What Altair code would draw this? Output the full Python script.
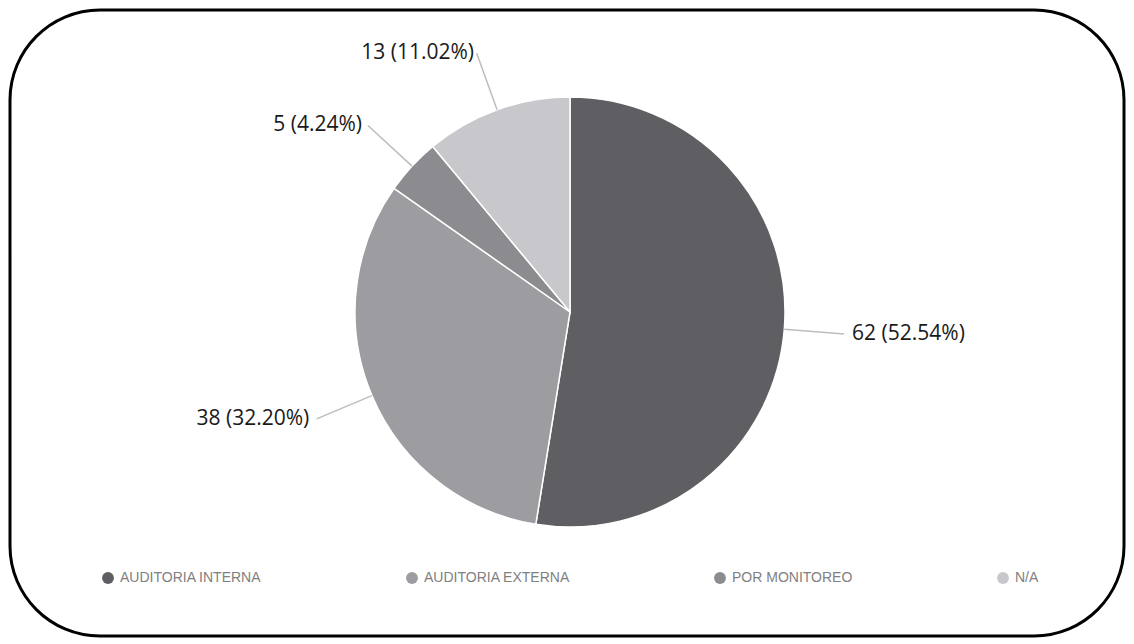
import math
import altair as alt
import pandas as pd

categories = ["AUDITORIA INTERNA", "AUDITORIA EXTERNA", "POR MONITOREO", "N/A"]
values = [62, 38, 5, 13]
colors = ["#5f5f63", "#9d9da1", "#8c8c90", "#c8c8cc"]

W, H = 1114, 626
CX, CY = 560, 302
R = 215
LINE = 60
GAP = 8

total = sum(values)
rows = []
cum = 0
for i, (c, v) in enumerate(zip(categories, values)):
    mid = (cum + v / 2) / total * 2 * math.pi
    cum += v
    s, co = math.sin(mid), -math.cos(mid)
    rows.append(dict(
        cat=c, value=v, order=i,
        label=f"{v} ({v / total * 100:.2f}%)",
        x1=CX + R * s, y1=CY + R * co,
        x2=CX + (R + LINE) * s, y2=CY + (R + LINE) * co,
        tx=CX + (R + LINE + GAP) * s, ty=CY + (R + LINE) * co,
        side="right" if s > 0 else "left",
    ))
df = pd.DataFrame(rows)

base = alt.Chart(df)

pie = base.mark_arc(outerRadius=R, stroke="white", strokeWidth=1.5).encode(
    theta=alt.Theta("value:Q", stack=True),
    color=alt.Color(
        "cat:N",
        scale=alt.Scale(domain=categories, range=colors),
        legend=alt.Legend(
            title=None, orient="none", legendX=91, legendY=561,
            direction="horizontal", symbolType="circle", symbolSize=140,
            symbolStrokeWidth=0, labelFont="Liberation Sans",
            labelFontSize=14, labelColor="#808080", columnPadding=143,
            labelOffset=5,
        ),
    ),
    order=alt.Order("order:Q"),
    x=alt.value(CX),
    y=alt.value(CY),
)

lines = base.mark_rule(color="#bdbdbd", strokeWidth=1.5).encode(
    x=alt.X("x1:Q", scale=None, axis=None),
    y=alt.Y("y1:Q", scale=None, axis=None),
    x2="x2:Q",
    y2="y2:Q",
)

txt_r = base.transform_filter(alt.datum.side == "right").mark_text(
    align="left", baseline="middle", font="Open Sans", fontSize=21, color="#1a1a1a"
).encode(
    x=alt.X("tx:Q", scale=None, axis=None),
    y=alt.Y("ty:Q", scale=None, axis=None),
    text="label:N",
)

txt_l = base.transform_filter(alt.datum.side == "left").mark_text(
    align="right", baseline="middle", font="Open Sans", fontSize=21, color="#1a1a1a"
).encode(
    x=alt.X("tx:Q", scale=None, axis=None),
    y=alt.Y("ty:Q", scale=None, axis=None),
    text="label:N",
)

chart = alt.layer(pie, lines, txt_r, txt_l).properties(
    width=W, height=H,
    padding={"left": 2, "top": 2, "right": 2, "bottom": 2},
).configure_view(
    stroke="black", strokeWidth=3, cornerRadius=90
)

chart.save("out.html", embed_options={"renderer": "svg", "actions": False})
